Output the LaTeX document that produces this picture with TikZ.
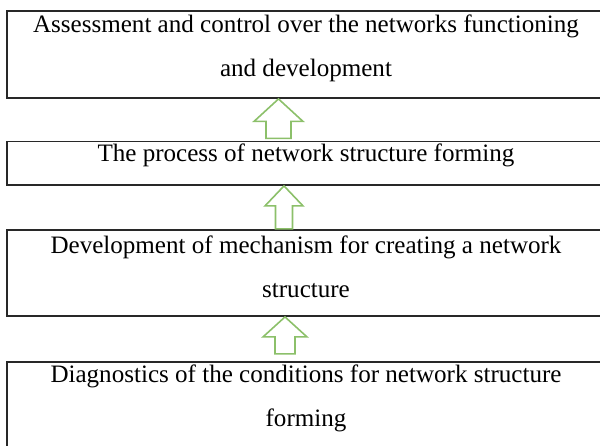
\documentclass[tikz,border=0pt]{standalone}
\usepackage{fontspec}
\setmainfont{Liberation Serif}
\usetikzlibrary{calc}
\definecolor{arrgreen}{RGB}{140,192,106}
\definecolor{boxline}{RGB}{40,40,40}
\begin{document}
\begin{tikzpicture}[x=0.75pt,y=-0.75pt,
  box/.style={draw=boxline,line width=1.4pt,rectangle,inner sep=0pt,minimum width=448.5pt},
  lbl/.style={anchor=base,align=center,inner sep=0pt,font=\fontsize{18.8}{33}\selectfont},
  blockarr/.style={draw=arrgreen,line width=1.2pt,fill=white,line join=miter}]
\useasboundingbox (0,0) rectangle (600,446);
\clip (0,0) rectangle (600,446);
\node[box,minimum height=65.25pt] (b1) at (306,54.5) {};
\node[box,minimum height=32.6pt] (b2) at (306,163.25) {};
\node[box,minimum height=64.5pt] (b3) at (306,273) {};
\node[box,minimum height=67.5pt] (b4) at (306,407) {};
\node[lbl] (t1) at (306,76) {Assessment and control over the networks functioning\\and development};
\node[lbl] (t2) at (306,161) {The process of network structure forming};
\node[lbl] (t3) at (306,297) {Development of mechanism for creating a network\\structure};
\node[lbl] (t4) at (306,426) {Diagnostics of the conditions for network structure\\forming};
% block arrows
\draw[blockarr] ($(b1.south)+(-27.5,0)$) -- ++(24.5,22.5) -- ++(-12,0) -- ++(0,17) -- ++(-25,0) -- ++(0,-17) -- ++(-12,0) -- cycle;
\draw[blockarr] ($(b2.south)+(-22,0)$) -- ++(19,20) -- ++(-10.5,0) -- ++(0,23) -- ++(-17,0) -- ++(0,-23) -- ++(-10.5,0) -- cycle;
\draw[blockarr] ($(b3.south)+(-21,0)$) -- ++(22,20) -- ++(-12,0) -- ++(0,17) -- ++(-20,0) -- ++(0,-17) -- ++(-12,0) -- cycle;
\end{tikzpicture}
\end{document}
